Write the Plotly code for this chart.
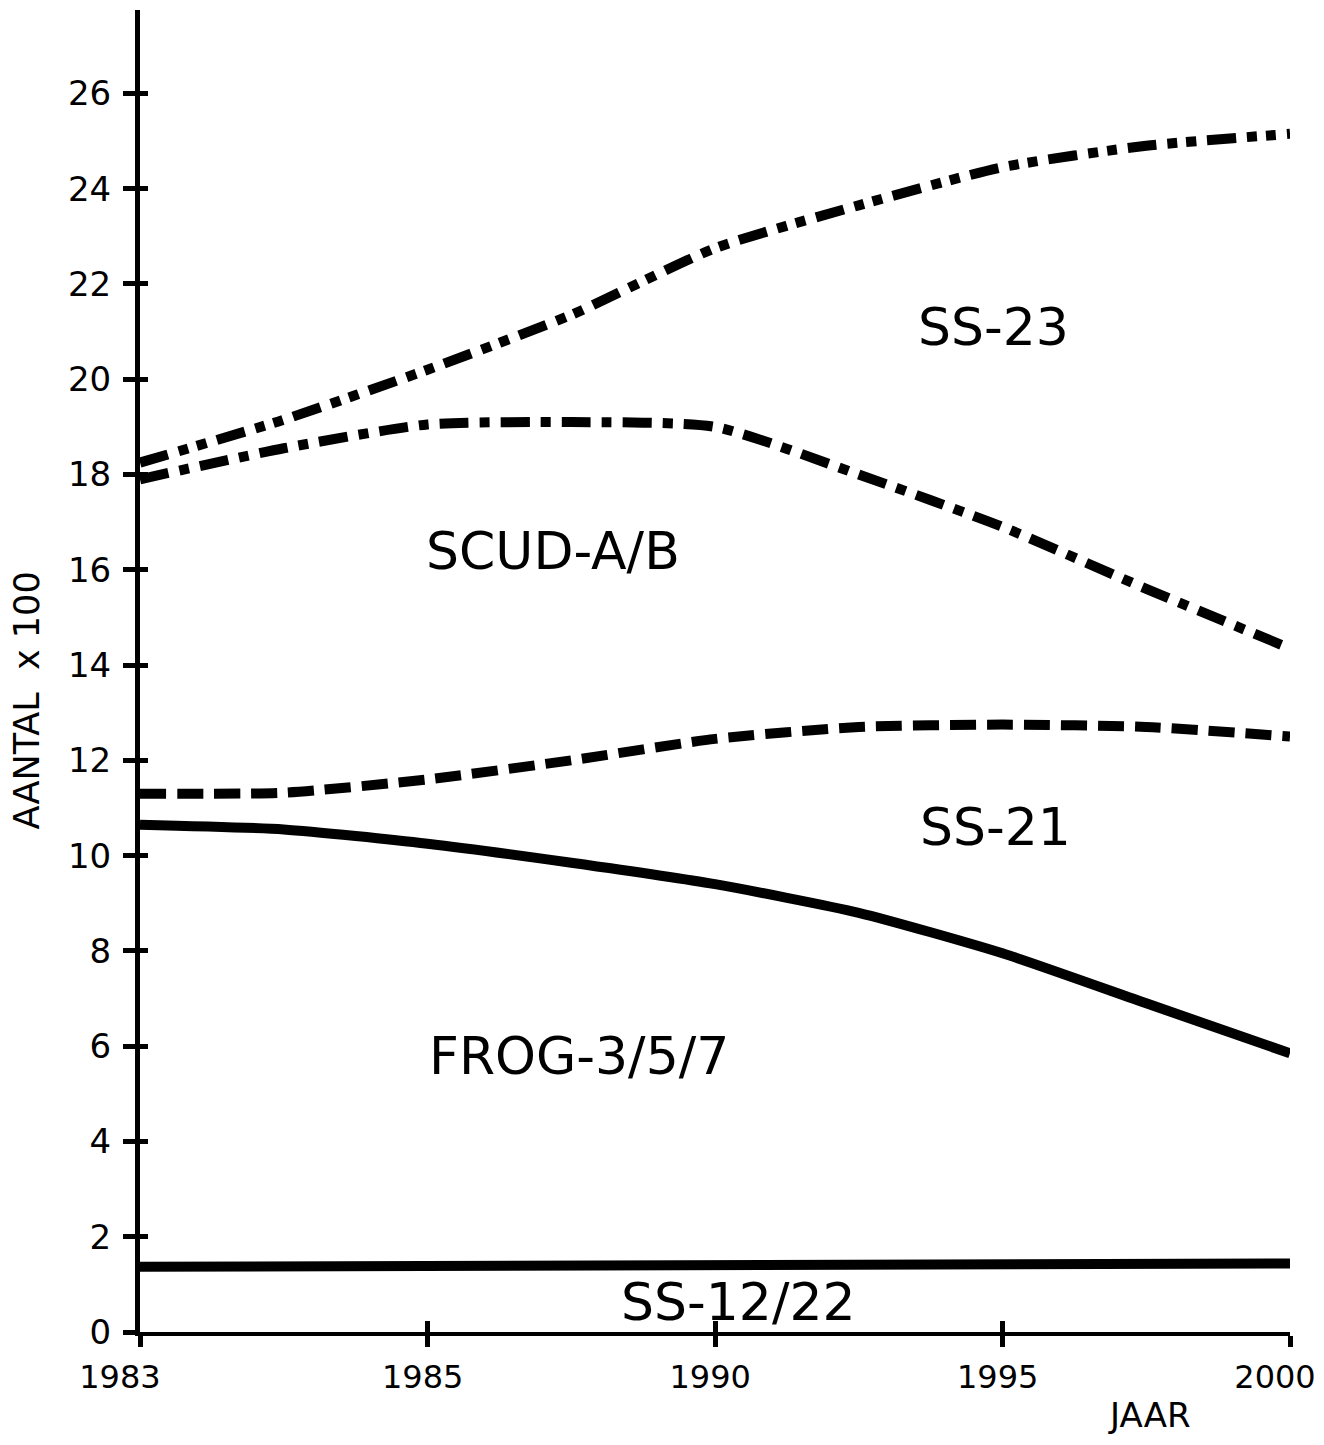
import numpy as np
import plotly.graph_objects as go

# ---- data ----
TICK_YEARS = [1983, 1985, 1990, 1995, 2000]
Y_TICKS = [0, 2, 4, 6, 8, 10, 12, 14, 16, 18, 20, 22, 24, 26]

YEARS = [1983, 1984, 1985, 1987.5, 1990, 1992.5, 1995, 1997.5, 2000]
SS23 = [18.25, 19.15, 20.2, 21.35, 22.75, 23.65, 24.45, 24.9, 25.15]
SCUD = [17.9, 18.55, 19.05, 19.1, 19.0, 18.0, 16.9, 15.6, 14.35]
SS21 = [11.3, 11.32, 11.6, 12.0, 12.45, 12.7, 12.75, 12.7, 12.5]
FROG = [10.65, 10.55, 10.25, 9.85, 9.4, 8.8, 7.95, 6.9, 5.85]
SS1222_YEARS = [1983, 2000]
SS1222 = [1.37, 1.44]

LABELS = ["SS-23", "SCUD-A/B", "SS-21", "FROG-3/5/7", "SS-12/22"]

# the year axis of the original is drawn with equal spacing between ticks
def year_pos(years):
    return np.interp(years, TICK_YEARS, list(range(len(TICK_YEARS))))

FONT = "DejaVu Sans"
BLACK = "black"
LW = 10
NB = "\u00a0"

fig = go.Figure()

series = [
    (SS23, YEARS, "29px,11px,10px,9px,10px,11px"),
    (SCUD, YEARS, "29px,11px,10px,11px"),
    (SS21, YEARS, "26px,11px"),
    (FROG, YEARS, "solid"),
    (SS1222, SS1222_YEARS, "solid"),
]
for vals, yrs, dash in series:
    fig.add_trace(go.Scatter(
        x=year_pos(yrs), y=vals, mode="lines",
        line=dict(color=BLACK, width=LW, dash=dash, shape="spline", smoothing=0.6),
        hoverinfo="skip", showlegend=False, cliponaxis=False,
    ))

# empty trace on overlay axes (used for the inner half of the crossing ticks)
fig.add_trace(go.Scatter(x=[], y=[], xaxis="x2", yaxis="y2", showlegend=False))

tick_pos = list(year_pos(TICK_YEARS))
x_range = [tick_pos[0], tick_pos[-1]]
y_range = [0, 27.75]

# labels are shifted left as a group (so "2000" fits); the middle ones are
# nudged back with leading non-breaking spaces
x_ticktext = [str(y) for y in TICK_YEARS]
x_ticktext[0] = x_ticktext[0] + NB
for i in range(1, len(x_ticktext) - 1):
    x_ticktext[i] = NB * 2 + x_ticktext[i]

fig.update_layout(
    width=1308, height=1429,
    margin=dict(l=132, r=26, t=2, b=105, autoexpand=False),
    paper_bgcolor="white", plot_bgcolor="white",
    font=dict(family=FONT, color=BLACK),
    xaxis=dict(
        range=x_range, tickmode="array", tickvals=tick_pos,
        ticktext=x_ticktext, automargin=False,
        ticks="outside", ticklen=11, tickwidth=5, tickcolor=BLACK,
        showline=True, linewidth=4, linecolor=BLACK,
        showgrid=False, zeroline=False,
        tickfont=dict(family=FONT, size=32, color=BLACK),
        ticklabelstandoff=3, ticklabelshift=-15,
    ),
    yaxis=dict(
        range=y_range, tickmode="array", tickvals=Y_TICKS,
        ticktext=[str(v) for v in Y_TICKS], automargin=False,
        ticks="outside", ticklen=12, tickwidth=5, tickcolor=BLACK,
        showline=True, linewidth=5, linecolor=BLACK,
        showgrid=False, zeroline=False,
        tickfont=dict(family=FONT, size=34, color=BLACK),
        ticklabelstandoff=5,
    ),
    xaxis2=dict(
        overlaying="x", anchor="y", side="bottom", range=x_range,
        tickmode="array", tickvals=tick_pos, ticks="inside", ticklen=11,
        tickwidth=5, tickcolor=BLACK, showticklabels=False, automargin=False,
        showline=False, showgrid=False, zeroline=False,
    ),
    yaxis2=dict(
        overlaying="y", anchor="x", side="left", range=y_range,
        tickmode="array", tickvals=Y_TICKS, ticks="inside", ticklen=8,
        tickwidth=5, tickcolor=BLACK, showticklabels=False, automargin=False,
        showline=False, showgrid=False, zeroline=False,
    ),
)

label_font = dict(family=FONT, size=52, color=BLACK)
label_pos = [(2.967, 21.1), (1.437, 16.4), (2.977, 10.6), (1.527, 5.8), (2.08, 0.62)]
for text, (lx, ly) in zip(LABELS, label_pos):
    fig.add_annotation(x=lx, y=ly, xref="x", yref="y", text=text, showarrow=False,
                       font=label_font, xanchor="center", yanchor="middle")

fig.add_annotation(x=-0.098, y=0.478, xref="paper", yref="paper",
                   text="AANTAL  x 100", textangle=-90, showarrow=False,
                   font=dict(family=FONT, size=35, color=BLACK),
                   xanchor="center", yanchor="middle")
fig.add_annotation(x=0.878, y=-0.0794, xref="paper", yref="paper",
                   text="JAAR", showarrow=False,
                   font=dict(family=FONT, size=34, color=BLACK),
                   xanchor="center", yanchor="bottom")

fig.write_html("out.html")
